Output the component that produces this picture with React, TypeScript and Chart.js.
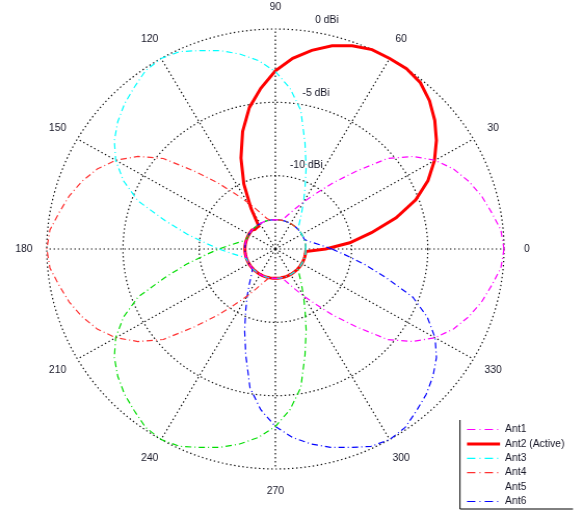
import { useEffect, useRef } from 'react';
import { Chart, RadarController, RadialLinearScale, PointElement, LineElement } from 'chart.js';

Chart.register(RadarController, RadialLinearScale, PointElement, LineElement);

// Angles (degrees, counter-clockwise from east) at which each pattern is sampled
const angles: number[] = Array.from({ length: 72 }, (_, i) => i * 5);

// Gain values in dBi, one per angle above (0, 5, 10, ... 355)
const ant1: number[] = [
  0, -0.15, -0.6, -1.0, -1.5, -2.1, -2.9, -4.0, -5.4, -7.5, -9.1, -10.4,
  -11.3, -12.0, -12.5, -12.85, -13, -13, -13, -13, -13, -13, -13, -13,
  -13, -13, -13, -13, -13, -13, -13, -13, -13, -13, -13, -13,
  -13, -13, -13, -13, -13, -13, -13, -13, -13, -13, -13, -13,
  -13, -13, -13, -13, -13, -13, -13, -13, -13, -12.85, -12.5, -12.0,
  -11.3, -10.4, -9.1, -7.5, -5.4, -4.0, -2.9, -2.1, -1.5, -1.0, -0.6, -0.15,
];
const ant2: number[] = [
  -11.7, -10.1, -8.6, -6.8, -5.2, -3.95, -2.95, -2.1, -1.35, -0.7, -0.2, 0,
  0, 0, -0.25, -0.65, -1.25, -1.95, -2.85, -4.0, -5.2, -6.7, -8.4, -10.1,
  -11.8, -13.1, -13.1, -13.1, -13, -13, -13, -13, -13, -13, -13, -13,
  -13, -13, -13, -13, -13, -13, -13, -13, -13, -13, -13, -13,
  -13, -13, -13, -13, -13, -13, -13, -13, -13, -13, -13, -13,
  -13, -13, -13, -13, -13, -13, -13, -13, -13, -13, -13, -13,
];
const ant3: number[] = [
  -13, -13, -13, -13, -13, -13, -13, -13, -13, -12.85, -12.5, -12.0,
  -11.3, -10.4, -9.1, -7.5, -5.4, -4.0, -2.9, -2.1, -1.5, -1.0, -0.6, -0.15,
  0, -0.15, -0.6, -1.0, -1.5, -2.1, -2.9, -4.0, -5.4, -7.5, -9.1, -10.4,
  -11.3, -12.0, -12.5, -12.85, -13, -13, -13, -13, -13, -13, -13, -13,
  -13, -13, -13, -13, -13, -13, -13, -13, -13, -13, -13, -13,
  -13, -13, -13, -13, -13, -13, -13, -13, -13, -13, -13, -13,
];
const ant4: number[] = [
  -13, -13, -13, -13, -13, -13, -13, -13, -13, -13, -13, -13,
  -13, -13, -13, -13, -13, -13, -13, -13, -13, -12.85, -12.5, -12.0,
  -11.3, -10.4, -9.1, -7.5, -5.4, -4.0, -2.9, -2.1, -1.5, -1.0, -0.6, -0.15,
  0, -0.15, -0.6, -1.0, -1.5, -2.1, -2.9, -4.0, -5.4, -7.5, -9.1, -10.4,
  -11.3, -12.0, -12.5, -12.85, -13, -13, -13, -13, -13, -13, -13, -13,
  -13, -13, -13, -13, -13, -13, -13, -13, -13, -13, -13, -13,
];
const ant5: number[] = [
  -13, -13, -13, -13, -13, -13, -13, -13, -13, -13, -13, -13,
  -13, -13, -13, -13, -13, -13, -13, -13, -13, -13, -13, -13,
  -13, -13, -13, -13, -13, -13, -13, -13, -13, -12.85, -12.5, -12.0,
  -11.3, -10.4, -9.1, -7.5, -5.4, -4.0, -2.9, -2.1, -1.5, -1.0, -0.6, -0.15,
  0, -0.15, -0.6, -1.0, -1.5, -2.1, -2.9, -4.0, -5.4, -7.5, -9.1, -10.4,
  -11.3, -12.0, -12.5, -12.85, -13, -13, -13, -13, -13, -13, -13, -13,
];
const ant6: number[] = [
  -11.3, -12.0, -12.5, -12.85, -13, -13, -13, -13, -13, -13, -13, -13,
  -13, -13, -13, -13, -13, -13, -13, -13, -13, -13, -13, -13,
  -13, -13, -13, -13, -13, -13, -13, -13, -13, -13, -13, -13,
  -13, -13, -13, -13, -13, -13, -13, -13, -13, -12.85, -12.5, -12.0,
  -11.3, -10.4, -9.1, -7.5, -5.4, -4.0, -2.9, -2.1, -1.5, -1.0, -0.6, -0.15,
  0, -0.15, -0.6, -1.0, -1.5, -2.1, -2.9, -4.0, -5.4, -7.5, -9.1, -10.4,
];

const seriesNames: string[] = ['Ant1', 'Ant2 (Active)', 'Ant3', 'Ant4', 'Ant5', 'Ant6'];
const seriesValues: number[][] = [ant1, ant2, ant3, ant4, ant5, ant6];
const seriesColors: string[] = ['#ff00ff', '#ff0000', '#00ffff', '#ff3030', '#00dd00', '#0000ff'];
const legendShowsLine: boolean[] = [true, true, true, true, false, true];

const angleLabelValues: number[] = [0, 30, 60, 90, 120, 150, 180, 210, 240, 270, 300, 330];
const radialTickValues: number[] = [0, -5, -10];
const radialTickLabels: string[] = ['0 dBi', '-5 dBi', '-10 dBi'];

const CANVAS_W = 562;
const CANVAS_H = 514;
const CSS_W = 584;
const SX = CSS_W / CANVAS_W;
const FONT = '10px "Liberation Sans", Arial, sans-serif';
const TEXT = '#151525';
const DASH_DOT = [6, 3, 1, 3];
const GRID_COLOR = '#111';
const GRID_DASH = [1.4, 2.6];

export default function App() {
  const ref = useRef<HTMLCanvasElement | null>(null);

  useEffect(() => {
    if (!ref.current) return;
    const N = angles.length;
    // radar index i runs clockwise from east, so it matches angle (360 - 5i) mod 360
    const radarAngles = angles.map((_, i) => angles[(N - i) % N]);

    const datasets = seriesValues.map((vals, k) => ({
      label: seriesNames[k],
      data: radarAngles.map((a) => vals[angles.indexOf(a)]),
      borderColor: seriesColors[k],
      borderWidth: k === 1 ? 3 : 1.2,
      borderDash: k === 1 ? [] : DASH_DOT,
      pointRadius: 0,
      fill: false,
      tension: 0,
      order: k === 1 ? 1 : 0,
    }));

    const overlay = {
      id: 'polarOverlay',
      afterDraw(chart: any) {
        const s = chart.scales.r;
        const ctx = chart.ctx as CanvasRenderingContext2D;
        const R = s.drawingArea;
        const cx = s.xCenter;
        const cy = s.yCenter;
        ctx.save();
        ctx.font = FONT;
        ctx.fillStyle = TEXT;
        ctx.textAlign = 'center';
        ctx.textBaseline = 'middle';
        angleLabelValues.forEach((deg) => {
          const a = (deg * Math.PI) / 180;
          ctx.fillText(String(deg), cx + 1.1 * R * Math.cos(a), cy - 1.1 * R * Math.sin(a));
        });
        ctx.textAlign = 'left';
        radialTickValues.forEach((v, i) => {
          const d = s.getDistanceFromCenterForValue(v) + 11.5;
          const a = (80.5 * Math.PI) / 180;
          ctx.fillText(radialTickLabels[i], cx + d * Math.cos(a), cy - d * Math.sin(a));
        });

        // legend (left and bottom border only, as in the reference)
        const lx = 460 / SX;
        const rx = 573 / SX;
        const top = 420;
        const bottom = 509;
        ctx.strokeStyle = '#000';
        ctx.lineWidth = 1;
        ctx.setLineDash([]);
        ctx.beginPath();
        ctx.moveTo(lx, top);
        ctx.lineTo(lx, bottom);
        ctx.lineTo(rx, bottom);
        ctx.stroke();
        const x0 = 467 / SX;
        const x1 = 500 / SX;
        const tx = 505 / SX;
        seriesNames.forEach((name, k) => {
          const y = 429.5 + k * 14.4;
          if (legendShowsLine[k]) {
            ctx.strokeStyle = seriesColors[k];
            ctx.lineWidth = k === 1 ? 3 : 1.2;
            ctx.setLineDash(k === 1 ? [] : [8, 4, 1, 4]);
            ctx.beginPath();
            ctx.moveTo(x0, y);
            ctx.lineTo(x1, y);
            ctx.stroke();
          }
          ctx.fillStyle = TEXT;
          ctx.fillText(name, tx, y);
        });
        ctx.restore();
      },
    };

    const chart = new Chart(ref.current, {
      type: 'radar',
      data: { labels: radarAngles.map(String), datasets },
      options: {
        animation: false,
        responsive: false,
        events: [],
        layout: { padding: { left: 45, top: 29, right: CANVAS_W - 45 - 440, bottom: CANVAS_H - 29 - 440 } },
        plugins: { legend: { display: false }, tooltip: { enabled: false } },
        elements: { point: { radius: 0 }, line: { tension: 0 } },
        scales: {
          r: {
            min: -15,
            max: 0,
            startAngle: 90,
            ticks: { display: false, stepSize: 5 },
            pointLabels: { display: false },
            grid: { circular: true, color: GRID_COLOR, lineWidth: 1.2 },
            border: { dash: GRID_DASH },
            angleLines: {
              display: true,
              color: (c: any) => (c.index % 6 === 0 ? GRID_COLOR : 'rgba(0,0,0,0)'),
              lineWidth: (c: any) => (c.index % 6 === 0 ? 1.2 : 0),
              borderDash: GRID_DASH,
            },
          },
        },
      } as any,
      plugins: [overlay],
    });
    return () => chart.destroy();
  }, []);

  return (
    <canvas
      ref={ref}
      width={CANVAS_W}
      height={CANVAS_H}
      style={{ position: 'absolute', left: 0, top: 0, width: `${CSS_W}px`, height: `${CANVAS_H}px` }}
    />
  );
}
